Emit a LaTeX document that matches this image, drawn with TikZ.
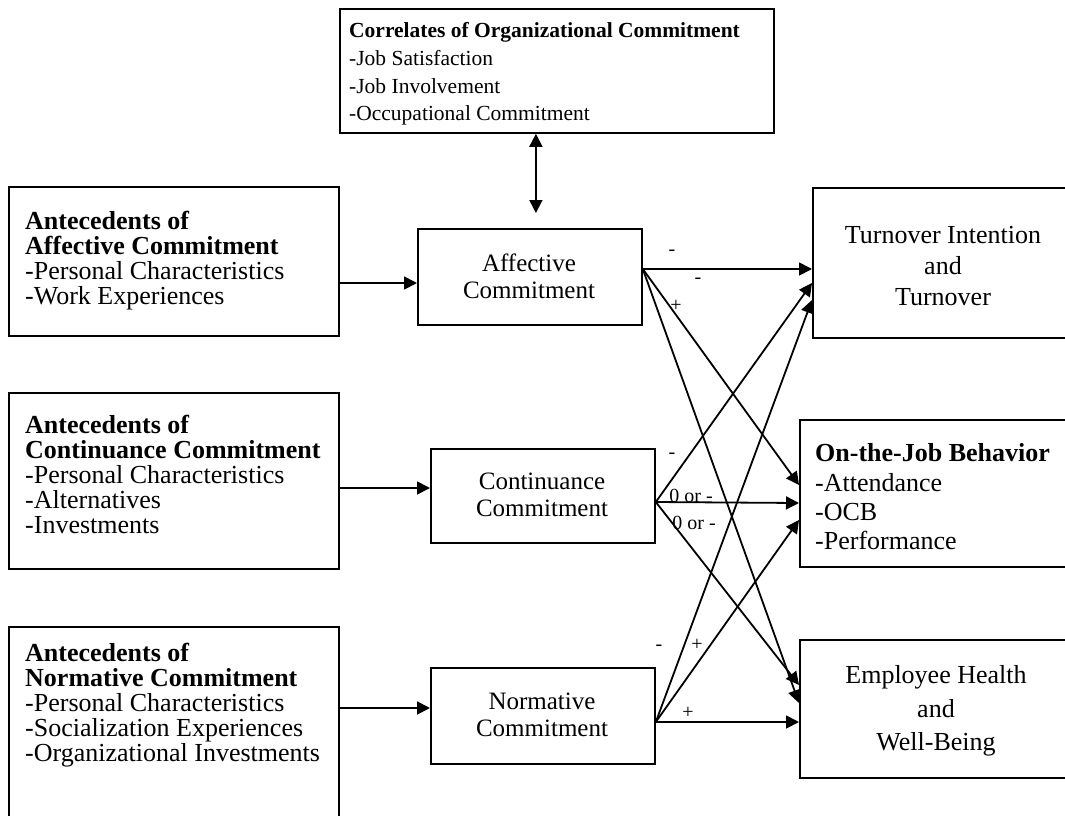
\documentclass[tikz,border=0pt]{standalone}
\usepackage{fontspec}
\setmainfont{Liberation Serif}
\usetikzlibrary{arrows.meta}
\tikzset{
  box/.style={draw, line width=1.8pt, inner sep=0pt, anchor=north west},
  ltext/.style={anchor=west, inner sep=0pt, align=left, font=\fontsize{26}{25}\selectfont},
  ctext/.style={anchor=center, inner sep=0pt, align=center, font=\fontsize{25}{27}\selectfont},
  rtext/.style={anchor=center, inner sep=0pt, align=center, font=\fontsize{26}{31}\selectfont},
  toptext/.style={anchor=west, inner sep=0pt, align=left, font=\fontsize{21.5}{27.7}\selectfont},
  lab/.style={inner sep=0pt, font=\fontsize{20}{20}\selectfont},
  arr/.style={line width=1.8pt, -{Triangle[length=13pt,width=13pt]}},
  darr/.style={line width=1.8pt, {Triangle[length=13pt,width=13pt]}-{Triangle[length=13pt,width=13pt]}},
}
\begin{document}
\begin{tikzpicture}[x=1pt,y=-1pt]
\useasboundingbox[fill=white] (0,0) rectangle (1065,816);
\clip (0,0) rectangle (1065,816);

% boxes
\node[box, minimum width=434pt, minimum height=124pt] (top) at (339,8) {};
\node[box, minimum width=330pt, minimum height=149pt] (A1) at (8,186) {};
\node[box, minimum width=330pt, minimum height=176pt] (A2) at (8,392) {};
\node[box, minimum width=330pt, minimum height=210pt] (A3) at (8,626) {};
\node[box, minimum width=224pt, minimum height=96pt] (AC) at (417,228) {};
\node[box, minimum width=224pt, minimum height=94pt] (CC) at (430,448) {};
\node[box, minimum width=224pt, minimum height=96pt] (NC) at (430,667) {};
\node[box, minimum width=270pt, minimum height=150pt] (TO) at (812,187) {};
\node[box, minimum width=280pt, minimum height=147pt] (OJB) at (799,419) {};
\node[box, minimum width=280pt, minimum height=138pt] (EH) at (799,639) {};

% texts
\node[toptext] (topT) at (349,74) {\textbf{Correlates of Organizational Commitment}\\-Job Satisfaction\\-Job Involvement\\-Occupational Commitment};
\node[ltext] (A1T) at (25,261) {\textbf{Antecedents of}\\\textbf{Affective Commitment}\\-Personal Characteristics\\-Work Experiences};
\node[ltext] (A2T) at (25,474) {\textbf{Antecedents of}\\\textbf{Continuance Commitment}\\-Personal Characteristics\\-Alternatives\\-Investments};
\node[ltext] (A3T) at (25,705) {\textbf{Antecedents of}\\\textbf{Normative Commitment}\\-Personal Characteristics\\-Socialization Experiences\\-Organizational Investments};
\node[ctext] (ACT) at (529,276) {Affective\\Commitment};
\node[ctext] (CCT) at (542,495) {Continuance\\Commitment};
\node[ctext] (NCT) at (542,715) {Normative\\Commitment};
\node[rtext] (TOT) at (943,266) {Turnover Intention\\and\\Turnover};
\node[ltext, font=\fontsize{26}{29.3}\selectfont] (OJBT) at (815,497) {\textbf{On-the-Job Behavior}\\-Attendance\\-OCB\\-Performance};
\node[rtext, font=\fontsize{26}{33.5}\selectfont] (EHT) at (936,711) {Employee Health\\and\\Well-Being};

% connection points
\coordinate (ACo) at ([yshift=-41pt]AC.north east);
\coordinate (CCo) at ([yshift=-54pt]CC.north east);
\coordinate (NCo) at ([yshift=-55pt]NC.north east);
\coordinate (t1) at ([yshift=-82pt]TO.north west);
\coordinate (t2) at ([yshift=-96pt]TO.north west);
\coordinate (t3) at ([yshift=-113pt]TO.north west);
\coordinate (o1) at ([yshift=-66pt]OJB.north west);
\coordinate (o2) at ([yshift=-84pt]OJB.north west);
\coordinate (o3) at ([yshift=-101pt]OJB.north west);
\coordinate (e1) at ([yshift=-46pt]EH.north west);
\coordinate (e2) at ([yshift=-64pt]EH.north west);
\coordinate (e3) at ([yshift=-83pt]EH.north west);

% inputs
\draw[arr] ([yshift=-97pt]A1.north east) -- ([yshift=-55pt]AC.north west);
\draw[arr] ([yshift=-96pt]A2.north east) -- ([yshift=-40pt]CC.north west);
\draw[arr] ([yshift=-82pt]A3.north east) -- ([yshift=-41pt]NC.north west);

% correlates double arrow
\coordinate (dtop) at ([xshift=-21pt]top.south);
\coordinate (dbot) at ([yshift=15pt]dtop |- AC.north);
\draw[darr] (dtop) -- (dbot);

% outputs
\draw[arr] (ACo) -- (t1);
\draw[arr] (ACo) -- (o1);
\draw[arr] (ACo) -- (e2);
\draw[arr] (CCo) -- (t2);
\draw[arr] (CCo) -- (o2);
\draw[arr] (CCo) -- (e1);
\draw[arr] (NCo) -- (t3);
\draw[arr] (NCo) -- (o3);
\draw[arr] (NCo) -- (e3);

% labels
\node[lab] (l1) at (672,253) {-};
\node[lab] (l2) at (698,281) {-};
\node[lab] (l3) at (676,306) {+};
\node[lab] (l4) at (672,456) {-};
\node[lab] (l5) at (691,496) {0 or -};
\node[lab] (l6) at (694,523) {0 or -};
\node[lab] (l7) at (659,648) {-};
\node[lab] (l8) at (697,645) {+};
\node[lab] (l9) at (688,713) {+};
\end{tikzpicture}
\end{document}
